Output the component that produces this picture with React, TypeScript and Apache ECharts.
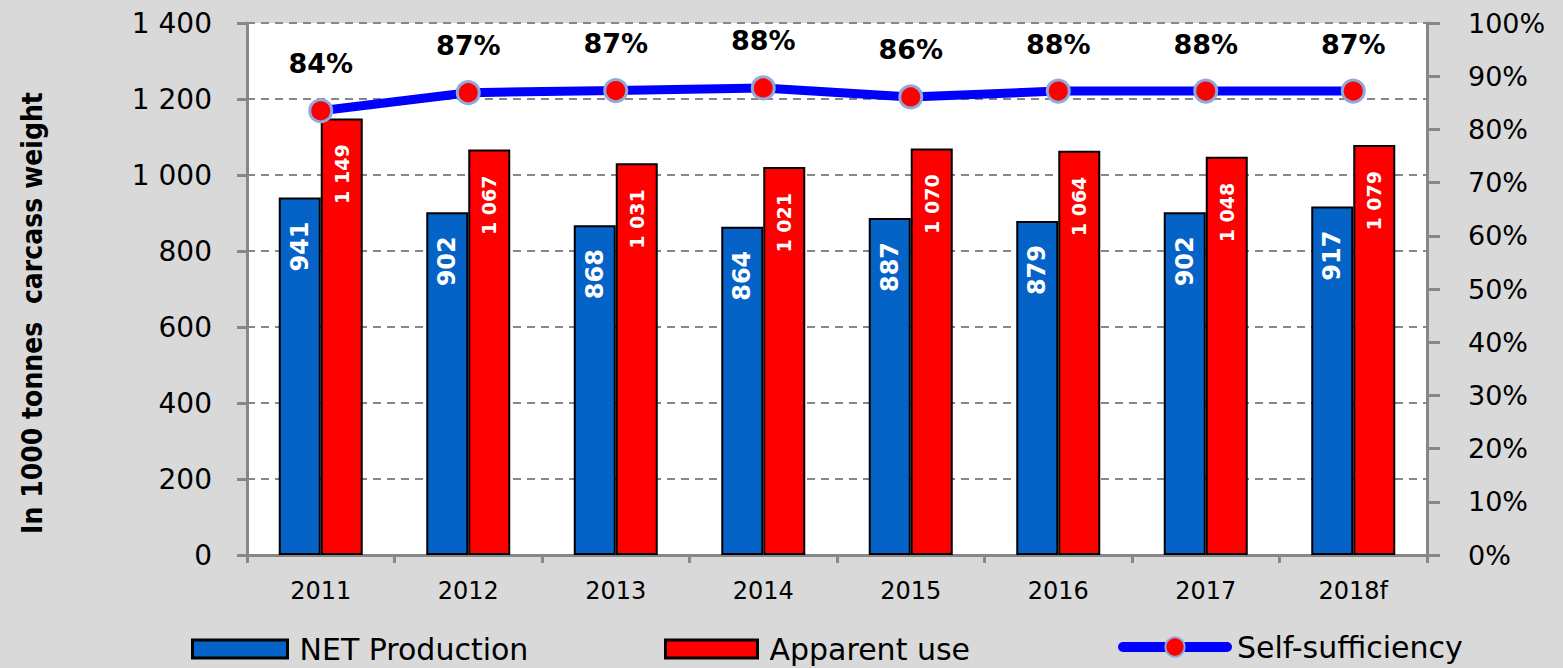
import React, { useEffect, useRef } from "react";
import * as echarts from "echarts";

const categories = ["2011", "2012", "2013", "2014", "2015", "2016", "2017", "2018f"];
const netProduction = [941, 902, 868, 864, 887, 879, 902, 917];
const apparentUse = [1149, 1067, 1031, 1021, 1070, 1064, 1048, 1079];
const selfSufficiency = [83.5, 86.9, 87.3, 87.8, 86.1, 87.2, 87.2, 87.2];
const selfSufficiencyLabels = ["84%", "87%", "87%", "88%", "86%", "88%", "88%", "87%"];
const seriesNames = ["NET Production", "Apparent use", "Self-sufficiency"];
const yAxisTitle = "In 1000 tonnes  carcass weight";

const fmtThousands = (v: number) =>
  v >= 1000 ? `${Math.floor(v / 1000)} ${String(v % 1000).padStart(3, "0")}` : String(v);

const FONT = "'DejaVu Sans', Verdana, sans-serif";
const GRAY = "#878787";

export default function App() {
  const ref = useRef<HTMLDivElement>(null);
  useEffect(() => {
    if (!ref.current) return;
    const chart = echarts.init(ref.current, null, { renderer: "svg" });
    const legendText = { fontSize: 30, color: "#000", fontFamily: FONT, padding: [0, 0, 0, 7] };
    const option: any = {
      animation: false,
      backgroundColor: "#d9d9d9",
      textStyle: { fontFamily: FONT },
      grid: {
        left: 247,
        right: 136,
        top: 23,
        bottom: 113,
        show: true,
        backgroundColor: "#ffffff",
        borderWidth: 0,
      },
      legend: [
        {
          data: [seriesNames[0]],
          left: 186,
          top: 629,
          icon: "rect",
          itemWidth: 95,
          itemHeight: 18,
          itemStyle: { borderWidth: 3, borderColor: "#000" },
          textStyle: legendText,
        },
        {
          data: [seriesNames[1]],
          left: 659,
          top: 629,
          icon: "rect",
          itemWidth: 92,
          itemHeight: 18,
          itemStyle: { borderWidth: 3, borderColor: "#000" },
          textStyle: legendText,
        },
        {
          data: [seriesNames[2]],
          left: 1113,
          top: 627,
          itemWidth: 104,
          itemHeight: 24,
          lineStyle: { width: 10, cap: "round", color: "#0000ff" },
          textStyle: { ...legendText, padding: [0, 0, 0, 5] },
        },
      ],
      xAxis: {
        type: "category",
        data: categories,
        boundaryGap: true,
        axisLine: { lineStyle: { color: GRAY, width: 3 } },
        axisTick: { show: true, length: 8, lineStyle: { color: GRAY, width: 3 } },
        axisLabel: { fontSize: 24, color: "#000", margin: 24, fontFamily: FONT },
      },
      yAxis: [
        {
          type: "value",
          min: 0,
          max: 1400,
          interval: 200,
          position: "left",
          axisLine: { show: true, lineStyle: { color: GRAY, width: 3 } },
          axisTick: { show: true, length: 10, lineStyle: { color: GRAY, width: 3 } },
          axisLabel: { fontSize: 28, color: "#000", margin: 35, formatter: fmtThousands, fontFamily: FONT },
          splitLine: { show: true, lineStyle: { color: GRAY, width: 2, type: [8, 6] } },
        },
        {
          type: "value",
          min: 0,
          max: 100,
          interval: 10,
          position: "right",
          axisLine: { show: true, lineStyle: { color: GRAY, width: 3 } },
          axisTick: { show: true, length: 13, lineStyle: { color: GRAY, width: 3 } },
          axisLabel: { fontSize: 27, color: "#000", margin: 41, formatter: "{value}%", fontFamily: FONT },
          splitLine: { show: false },
        },
      ],
      series: [
        {
          name: seriesNames[0],
          type: "bar",
          data: netProduction,
          barWidth: 42,
          barGap: "0%",
          itemStyle: { color: "#0563c8", borderColor: "#000", borderWidth: 2 },
          label: {
            show: true,
            position: "insideTop",
            distance: 24,
            rotate: 90,
            align: "right",
            verticalAlign: "middle",
            color: "#fff",
            fontWeight: "bold",
            fontSize: 24,
            fontFamily: FONT,
          },
        },
        {
          name: seriesNames[1],
          type: "bar",
          data: apparentUse,
          barWidth: 42,
          barGap: "0%",
          itemStyle: { color: "#ff0000", borderColor: "#000", borderWidth: 2 },
          label: {
            show: true,
            position: "insideTop",
            distance: 26,
            rotate: 90,
            align: "right",
            verticalAlign: "middle",
            color: "#fff",
            fontWeight: "bold",
            fontSize: 19,
            fontFamily: FONT,
            formatter: (p: any) => fmtThousands(p.value),
          },
        },
        {
          name: seriesNames[2],
          type: "line",
          yAxisIndex: 1,
          data: selfSufficiency,
          symbol: "circle",
          symbolSize: 22,
          lineStyle: { color: "#0000ff", width: 9 },
          itemStyle: { color: "#ff0000", borderColor: "#8eaadb", borderWidth: 3 },
          label: {
            show: true,
            position: "top",
            distance: 21,
            color: "#000",
            fontWeight: "bold",
            fontSize: 27,
            fontFamily: FONT,
            formatter: (p: any) => selfSufficiencyLabels[p.dataIndex],
          },
          z: 5,
        },
      ],
      graphic: [
        {
          type: "text",
          x: 32,
          y: 313,
          rotation: Math.PI / 2,
          style: {
            text: yAxisTitle,
            fontSize: 28,
            fontWeight: "bold",
            fontFamily: "'Liberation Sans Narrow', 'DejaVu Sans Condensed', 'Liberation Sans', sans-serif",
            fill: "#000",
            align: "center",
            verticalAlign: "middle",
          },
        },
      ],
    };
    chart.setOption(option);
    return () => chart.dispose();
  }, []);
  return (
    <div
      ref={ref}
      style={{ position: "fixed", left: 0, top: 0, width: 1563, height: 668 }}
    />
  );
}
